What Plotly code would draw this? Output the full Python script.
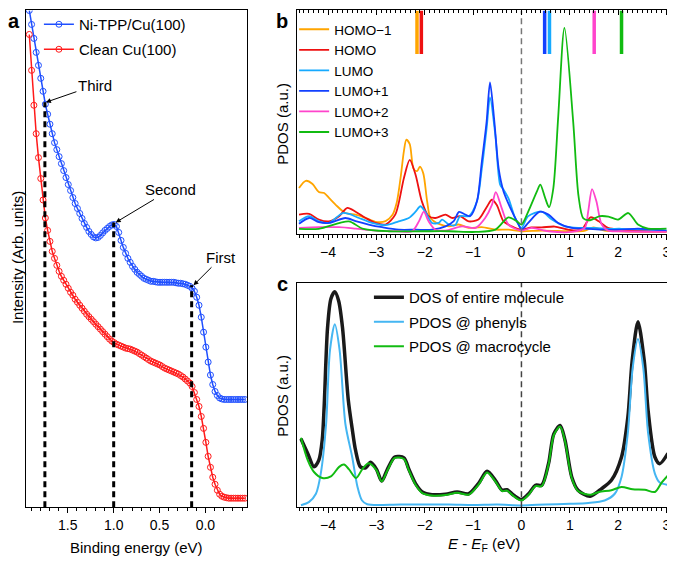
import numpy as np
import plotly.graph_objects as go

FONT = "Liberation Sans, Arial, Helvetica, sans-serif"

# ---------------- Panel a : photoemission spectra ----------------
a_energy = np.round(1.92 - 0.025 * np.arange(95), 3)  # binding energy grid (eV)
a_nitpp = [99.6, 96.8, 94.0, 91.2, 88.6, 86.0, 83.4, 80.8, 78.8, 76.8, 74.9, 73.1, 71.7, 70.3,
           68.9, 67.5, 66.1, 64.7, 63.5, 62.1, 60.9, 59.9, 58.9, 57.9, 56.9, 56.1, 55.3, 54.7,
           54.2, 54.0, 54.1, 54.5, 55.0, 55.5, 55.9, 56.3, 56.6, 56.7, 56.3, 55.1, 53.5, 52.1,
           50.9, 49.9, 49.1, 48.3, 47.7, 47.1, 46.7, 46.3, 45.9, 45.7, 45.5, 45.3, 45.3, 45.2,
           45.1, 45.1, 45.1, 45.1, 45.1, 45.1, 45.1, 45.1, 45.0, 44.9, 44.9, 44.8, 44.7, 44.5,
           44.3, 43.9, 43.3, 42.1, 40.5, 38.1, 35.1, 32.1, 29.1, 26.5, 24.6, 23.2, 22.4, 21.9,
           21.7, 21.6, 21.6, 21.6, 21.6, 21.6, 21.6, 21.6, 21.6, 21.6, 21.6]
a_clean = [94.8, 87.6, 80.6, 74.9, 70.1, 65.9, 61.6, 58.0, 55.5, 53.3, 51.3, 49.9, 48.5, 47.3,
           46.3, 45.5, 44.7, 43.9, 43.1, 42.5, 41.7, 41.1, 40.5, 39.9, 39.3, 38.7, 38.2, 37.7,
           37.2, 36.7, 36.2, 35.7, 35.2, 34.7, 34.2, 33.7, 33.3, 33.0, 32.7, 32.5, 32.3, 32.1,
           31.9, 31.8, 31.7, 31.5, 31.3, 31.1, 30.8, 30.5, 30.2, 29.9, 29.6, 29.3, 29.1, 28.9,
           28.7, 28.5, 28.2, 27.9, 27.7, 27.5, 27.3, 27.1, 26.9, 26.7, 26.4, 26.1, 25.7, 25.3,
           24.9, 24.2, 23.0, 21.6, 20.2, 18.2, 15.8, 13.0, 10.2, 8.0, 6.0, 4.6, 3.4, 2.6,
           2.2, 2.0, 1.9, 1.8, 1.8, 1.8, 1.8, 1.8, 1.8, 1.8, 1.8]
a_names = ["Ni-TPP/Cu(100)", "Clean Cu(100)"]
a_peak_labels = ["Third", "Second", "First"]
a_peak_energy = [1.75, 1.0, 0.15]
a_peak_top = [81.2, 57.1, 44.5]
a_arrow_head = [(1.739, 81.2), (0.978, 57.1), (0.130, 44.5)]

# ---------------- Panel b : orbital-resolved PDOS ----------------
b_names = ["HOMO\u22121", "HOMO", "LUMO", "LUMO+1", "LUMO+2", "LUMO+3"]
b_colors = ["#ffa500", "#ee1111", "#16aaff", "#1240ff", "#ff44cc", "#11bb11"]

homo1_E = [-4.60, -4.46, -4.32, -4.19, -4.08, -3.98, -3.81, -3.64, -3.43, -3.22, -3.02, -2.81,
           -2.67, -2.58, -2.50, -2.43, -2.38, -2.31, -2.23, -2.16, -2.10, -2.03, -1.95, -1.88,
           -1.71, -1.50, -1.30, -1.09, -0.82, -0.54, -0.27, 0.0, 0.42, 1.04, 1.30, 1.49, 1.72,
           2.07, 3.0]
homo1_v = [0.205, 0.237, 0.223, 0.187, 0.183, 0.161, 0.124, 0.094, 0.087, 0.072, 0.055, 0.058,
           0.085, 0.14, 0.25, 0.37, 0.42, 0.40, 0.29, 0.28, 0.30, 0.27, 0.146, 0.072,
           0.046, 0.035, 0.043, 0.028, 0.031, 0.02, 0.02, 0.013, 0.016, 0.013, 0.015, 0.03, 0.016,
           0.013, 0.010]

homo_E = [-4.60, -4.39, -4.19, -3.98, -3.77, -3.60, -3.43, -3.22, -3.02, -2.81, -2.61, -2.43,
          -2.31, -2.19, -2.06, -1.92, -1.78, -1.57, -1.44, -1.27, -1.09, -0.89, -0.72, -0.61,
          -0.51, -0.37, -0.20, 0.0, 0.21, 0.42, 0.69, 0.97, 1.24, 1.43, 1.60, 1.79, 2.07, 3.0]
homo_v = [0.087, 0.09, 0.065, 0.057, 0.08, 0.117, 0.10, 0.072, 0.05, 0.043, 0.087, 0.25,
          0.33, 0.264, 0.146, 0.08, 0.072, 0.087, 0.072, 0.08, 0.057, 0.065, 0.12, 0.153,
          0.13, 0.057, 0.035, 0.02, 0.03, 0.03, 0.034, 0.02, 0.02, 0.075, 0.057, 0.028, 0.02, 0.013]

lumo_E = [-4.60, -4.39, -4.19, -3.98, -3.70, -3.57, -3.36, -3.09, -2.81, -2.54, -2.33, -2.19,
          -2.09, -1.99, -1.85, -1.71, -1.64, -1.50, -1.37, -1.27, -1.09, -0.92, -0.82, -0.72,
          -0.65, -0.54, -0.44, -0.37, -0.27, -0.13, 0.0, 0.14, 0.42, 0.63, 0.90, 1.20, 1.52,
          1.80, 2.07, 3.0]
lumo_v = [0.057, 0.08, 0.057, 0.050, 0.094, 0.090, 0.072, 0.050, 0.040, 0.057, 0.072, 0.10,
          0.124, 0.10, 0.050, 0.050, 0.065, 0.043, 0.040, 0.08, 0.08, 0.146, 0.29, 0.47,
          0.607, 0.44, 0.22, 0.198, 0.16, 0.072, 0.028, 0.08, 0.10, 0.065, 0.035, 0.028, 0.028,
          0.024, 0.024, 0.016]

lumo1_E = [-4.60, -4.39, -4.19, -3.98, -3.64, -3.43, -3.16, -2.88, -2.54, -2.19, -1.85, -1.57,
           -1.40, -1.29, -1.16, -1.06, -0.92, -0.82, -0.72, -0.65, -0.56, -0.47, -0.37, -0.23,
           -0.06, 0.0, 0.14, 0.38, 0.56, 0.76, 1.04, 1.38, 1.72, 2.07, 2.41, 3.0]
lumo1_v = [0.046, 0.072, 0.053, 0.050, 0.072, 0.058, 0.043, 0.031, 0.02, 0.02, 0.02, 0.035,
           0.058, 0.099, 0.087, 0.080, 0.146, 0.32, 0.50, 0.674, 0.50, 0.29, 0.19, 0.117,
           0.043, 0.02, 0.05, 0.10, 0.087, 0.05, 0.028, 0.024, 0.02, 0.02, 0.025, 0.016]

lumo2_E = [-4.60, -4.19, -3.77, -3.43, -3.02, -2.54, -2.26, -2.12, -2.02, -1.92, -1.78, -1.57,
           -1.23, -0.95, -0.75, -0.61, -0.53, -0.41, -0.27, 0.0, 0.21, 0.56, 1.04, 1.31, 1.38,
           1.46, 1.55, 1.66, 1.79, 2.07, 3.0]
lumo2_v = [0.028, 0.031, 0.031, 0.025, 0.016, 0.013, 0.013, 0.057, 0.10, 0.057, 0.02, 0.016,
           0.035, 0.028, 0.072, 0.13, 0.187, 0.117, 0.043, 0.016, 0.028, 0.013, 0.010, 0.028, 0.10,
           0.20, 0.146, 0.043, 0.016, 0.013, 0.010]

lumo3_E = [-4.60, -4.19, -3.57, -3.29, -2.74, -2.06, -1.50, -0.95, -0.54, -0.27, -0.10, 0.0,
           0.14, 0.32, 0.39, 0.49, 0.57, 0.66, 0.76, 0.89, 1.07, 1.18, 1.28, 1.42, 1.62, 1.80,
           2.00, 2.21, 2.41, 2.62, 3.0]
lumo3_v = [0.024, 0.024, 0.057, 0.025, 0.013, 0.013, 0.013, 0.010, 0.02, 0.075, 0.058, 0.043,
           0.10, 0.19, 0.22, 0.161, 0.12, 0.205, 0.52, 0.916, 0.50, 0.17, 0.07, 0.062, 0.08, 0.078,
           0.065, 0.094, 0.043, 0.025, 0.025]

b_E = [homo1_E, homo_E, lumo_E, lumo1_E, lumo2_E, lumo3_E]
b_v = [homo1_v, homo_v, lumo_v, lumo1_v, lumo2_v, lumo3_v]
b_level_E = [-2.16, -2.07, 0.58, 0.48, 1.505, 2.07]  # orbital energies (bars at top)
b_level_order = [0, 1, 3, 2, 4, 5]
b_top = 0.9934

# ---------------- Panel c : DOS of entire molecule ----------------
c_names = ["DOS of entire molecule", "PDOS @ phenyls", "PDOS @ macrocycle"]
c_colors = ["#1a1a1a", "#45b6f2", "#11bb11"]

dos_E = [-4.56, -4.42, -4.29, -4.19, -4.12, -4.08, -4.01, -3.94, -3.86, -3.78, -3.70, -3.58,
         -3.50, -3.43, -3.33, -3.22, -3.12, -3.00, -2.89, -2.77, -2.62, -2.43, -2.33, -2.19,
         -2.05, -1.85, -1.57, -1.33, -1.09, -0.89, -0.71, -0.54, -0.40, -0.30, -0.16, 0.0,
         0.15, 0.29, 0.42, 0.56, 0.67, 0.80, 0.90, 1.04, 1.17, 1.42, 1.66, 1.86, 2.07, 2.20,
         2.29, 2.41, 2.54, 2.62, 2.76, 2.86, 3.03]
dos_v = [0.305, 0.24, 0.18, 0.21, 0.30, 0.45, 0.80, 0.93, 0.961, 0.92, 0.80, 0.476,
         0.35, 0.253, 0.18, 0.176, 0.20, 0.17, 0.117, 0.17, 0.224, 0.22, 0.17, 0.105,
         0.068, 0.056, 0.058, 0.068, 0.06, 0.105, 0.16, 0.12, 0.076, 0.078, 0.053, 0.034,
         0.06, 0.098, 0.098, 0.194, 0.327, 0.364, 0.30, 0.135, 0.076, 0.049, 0.083, 0.12, 0.224, 0.40,
         0.653, 0.827, 0.653, 0.43, 0.224, 0.194, 0.24]

phen_E = [-4.56, -4.39, -4.25, -4.15, -4.04, -3.96, -3.86, -3.76, -3.64, -3.50, -3.39, -3.30,
          -3.19, -2.5, -1.5, -1.0, -0.5, 0.0, 0.5, 1.0, 1.38, 1.72, 1.93, 2.07, 2.20, 2.30,
          2.41, 2.52, 2.62, 2.76, 2.86, 3.03]
phen_v = [0.009, 0.024, 0.06, 0.15, 0.37, 0.70, 0.816, 0.70, 0.37, 0.224, 0.09, 0.031,
          0.013, 0.012, 0.012, 0.010, 0.012, 0.008, 0.012, 0.015, 0.019, 0.03, 0.06, 0.135, 0.33, 0.62,
          0.75, 0.62, 0.33, 0.15, 0.11, 0.10]

macro_E = [-4.56, -4.42, -4.29, -4.12, -3.94, -3.77, -3.67, -3.57, -3.42, -3.29, -3.16, -3.00,
           -2.89, -2.77, -2.62, -2.43, -2.33, -2.19, -2.05, -1.85, -1.57, -1.33, -1.09, -0.89,
           -0.71, -0.54, -0.40, -0.30, -0.16, 0.0, 0.15, 0.29, 0.42, 0.56, 0.67, 0.80, 0.90,
           1.04, 1.17, 1.42, 1.60, 1.86, 2.07, 2.30, 2.55, 2.76, 2.90, 3.03]
macro_v = [0.31, 0.21, 0.157, 0.13, 0.137, 0.18, 0.19, 0.17, 0.13, 0.17, 0.196, 0.165,
           0.115, 0.165, 0.22, 0.215, 0.165, 0.10, 0.063, 0.052, 0.054, 0.064, 0.056, 0.10,
           0.155, 0.115, 0.072, 0.074, 0.049, 0.030, 0.056, 0.094, 0.094, 0.19, 0.322, 0.36, 0.295,
           0.13, 0.072, 0.055, 0.068, 0.076, 0.09, 0.08, 0.078, 0.068, 0.11, 0.142]

c_E = [dos_E, phen_E, macro_E]
c_v = [dos_v, phen_v, macro_v]
c_widths = [3.5, 2, 2]

# ---------------- Layout helpers (page has an 8px body margin) ----------------
OFF = 8
W, H = 675 - OFF, 561 - OFF


def PX(px):
    return min(1.0, max(0.0, (px - OFF) / W))


def PY(py):
    return min(1.0, max(0.0, 1 - (py - OFF) / H))


def PYL(py):  # unclamped (legends may sit slightly above the paper)
    return 1 - (py - OFF) / H


# ---------------- Figure ----------------
fig = go.Figure()

# panel a
a_colors = ["#1f4fff", "#ff1a1a"]
for name, vals, col in zip(a_names, [a_nitpp, a_clean], a_colors):
    fig.add_trace(go.Scatter(
        x=a_energy, y=vals, mode="lines+markers", name=name,
        line=dict(color=col, width=1.5),
        marker=dict(symbol="circle-open", size=6, color=col, line=dict(width=1, color=col)),
        xaxis="x", yaxis="y", legend="legend", legendgroup=name))
for e, top in zip(a_peak_energy, a_peak_top):
    fig.add_trace(go.Scatter(x=[e, e], y=[0, top], mode="lines", showlegend=False,
                             line=dict(color="black", width=3, dash="6px,4px"),
                             xaxis="x", yaxis="y", hoverinfo="skip"))

# panel b
for name, col, ex, vy in zip(b_names, b_colors, b_E, b_v):
    fig.add_trace(go.Scatter(x=ex, y=vy, mode="lines", name=name,
                             line=dict(color=col, width=1.8, shape="spline", smoothing=0.8),
                             xaxis="x2", yaxis="y2", legend="legend2", legendgroup=name))
fig.add_trace(go.Scatter(x=[0, 0], y=[0, b_top], mode="lines", showlegend=False,
                         line=dict(color="#777777", width=1.5, dash="6px,4px"),
                         xaxis="x2", yaxis="y2", hoverinfo="skip"))
for k in b_level_order:
    fig.add_trace(go.Scatter(x=[b_level_E[k], b_level_E[k]], y=[0.80, b_top], mode="lines",
                             showlegend=False, line=dict(color=b_colors[k], width=3.5),
                             xaxis="x4", yaxis="y2", hoverinfo="skip"))

# panel c
for name, col, ex, vy, w in zip(c_names, c_colors, c_E, c_v, c_widths):
    fig.add_trace(go.Scatter(x=ex, y=vy, mode="lines", name=name,
                             line=dict(color=col, width=w, shape="spline", smoothing=0.8),
                             xaxis="x3", yaxis="y3", legend="legend3", legendgroup=name))
fig.add_trace(go.Scatter(x=[0, 0], y=[0, 1], mode="lines", showlegend=False,
                         line=dict(color="#444444", width=1.5, dash="6px,4px"),
                         xaxis="x3", yaxis="y3", hoverinfo="skip"))

tickfont = dict(family=FONT, size=14, color="black")
common_x = dict(showline=True, linecolor="black", linewidth=1, mirror=True, showgrid=False,
                zeroline=False, ticks="outside", ticklen=5, tickcolor="black", tickfont=tickfont)
common_y = dict(showline=True, linecolor="black", linewidth=1, mirror=True, showgrid=False,
                zeroline=False, ticks="", showticklabels=False, range=[0, 1])

xb_dom = [PX(298), PX(671)]
b_range = [-4.639, 3.052]

fig.update_layout(
    width=W, height=H, margin=dict(l=0, r=0, t=0, b=0),
    paper_bgcolor="white", plot_bgcolor="white",
    font=dict(family=FONT, size=15, color="black"),
    xaxis=dict(common_x, domain=[PX(26), PX(248)], range=[1.9565, -0.4565], dtick=0.5,
               tick0=0, tickformat=".1f", anchor="y",
               minor=dict(dtick=0.1, ticks="outside", ticklen=3, tickcolor="black", showgrid=False)),
    yaxis=dict(common_y, domain=[PY(507), PY(8.5)], range=[0, 99.6], anchor="x"),
    xaxis2=dict(common_x, domain=xb_dom, range=b_range, dtick=1, tick0=0, anchor="y2",
                minor=dict(dtick=0.1, ticks="outside", ticklen=3, tickcolor="black", showgrid=False)),
    yaxis2=dict(common_y, domain=[PY(233), PY(8.5)], range=[0, b_top], anchor="x2"),
    xaxis4=dict(overlaying="x2", side="top", range=b_range, anchor="y2", dtick=1, tick0=0,
                showline=False, showgrid=False, zeroline=False, showticklabels=False,
                ticks="inside", ticklen=5, tickcolor="black",
                minor=dict(dtick=0.1, ticks="inside", ticklen=3, tickcolor="black", showgrid=False)),
    xaxis3=dict(common_x, domain=xb_dom, range=b_range, dtick=1, tick0=0, anchor="y3",
                minor=dict(dtick=0.1, ticks="outside", ticklen=3, tickcolor="black", showgrid=False)),
    yaxis3=dict(common_y, domain=[PY(507), PY(282)], anchor="x3"),
    legend=dict(x=PX(39), y=PYL(6), xanchor="left", yanchor="top", bgcolor="rgba(0,0,0,0)",
                font=dict(family=FONT, size=15), traceorder="grouped", tracegroupgap=2.5),
    legend2=dict(x=PX(295), y=PYL(12), xanchor="left", yanchor="top", bgcolor="rgba(0,0,0,0)",
                 font=dict(family=FONT, size=13.5), traceorder="grouped", tracegroupgap=0),
    legend3=dict(x=PX(370), y=PYL(280), xanchor="left", yanchor="top", bgcolor="rgba(0,0,0,0)",
                 font=dict(family=FONT, size=15), traceorder="grouped", tracegroupgap=2),
)

ann = []
# panel a arrows
a_text_offset = [(49, -17), (55, -33), (28, -28)]
for lab, (hx, hy), (ax, ay) in zip(a_peak_labels, a_arrow_head, a_text_offset):
    ann.append(dict(x=hx, y=hy, xref="x", yref="y", text=lab, showarrow=True, ax=ax, ay=ay,
                    arrowhead=2, arrowsize=1, arrowwidth=1, arrowcolor="black", standoff=0,
                    xanchor="center", yanchor="middle",
                    font=dict(family=FONT, size=15, color="black")))
# axis titles and panel letters
ann += [
    dict(x=PX(137), y=PY(547), text="Binding energy (eV)", font=dict(size=15)),
    dict(x=PX(17), y=PY(256), text="Intensity (Arb. units)", textangle=-90, font=dict(size=15)),
    dict(x=PX(283), y=PY(122), text="PDOS (a.u.)", textangle=-90, font=dict(size=15)),
    dict(x=PX(283), y=PY(395), text="PDOS (a.u.)", textangle=-90, font=dict(size=15)),
    dict(x=PX(485), y=PY(544), text="<i>E</i> - <i>E</i><sub>F</sub> (eV)", font=dict(size=15)),
    dict(x=PX(14), y=PY(19), text="<b>a</b>", font=dict(size=20)),
    dict(x=PX(283), y=PY(19), text="<b>b</b>", font=dict(size=20)),
    dict(x=PX(283), y=PY(283), text="<b>c</b>", font=dict(size=20)),
]
for a in ann[3:]:
    a.update(xref="paper", yref="paper", showarrow=False, xanchor="center", yanchor="middle")
fig.update_layout(annotations=ann)

fig.write_html("out.html")
